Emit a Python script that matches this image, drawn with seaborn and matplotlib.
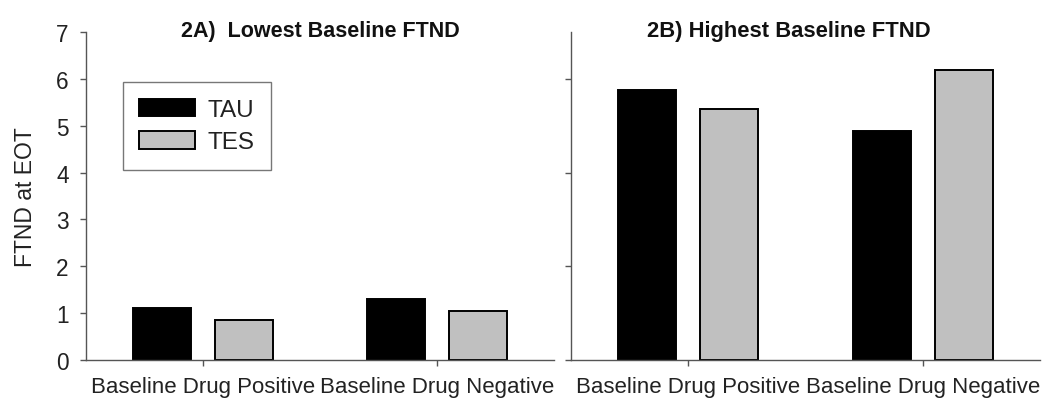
import numpy as np
import pandas as pd
import matplotlib
matplotlib.use("Agg")
import matplotlib.pyplot as plt
import seaborn as sns

# ---- data ----
groups = ["Baseline Drug Positive", "Baseline Drug Negative"]
treatments = ["TAU", "TES"]
lowest_tau = [1.11, 1.29]
lowest_tes = [0.84, 1.04]
highest_tau = [5.77, 4.90]
highest_tes = [5.36, 6.20]
yticks_left = [0, 1, 2, 3, 4, 5, 6, 7]
yticks_right = [0, 2, 4, 6]
title_left = "2A)  Lowest Baseline FTND"
title_right = "2B) Highest Baseline FTND"
ylabel = "FTND at EOT"

def frame(tau, tes):
    return pd.DataFrame({
        "group": groups * 2,
        "treatment": [treatments[0]] * len(groups) + [treatments[1]] * len(groups),
        "value": list(tau) + list(tes),
    })

df_left = frame(lowest_tau, lowest_tes)
df_right = frame(highest_tau, highest_tes)

sns.set_style("white")
plt.rcParams["font.family"] = ["Liberation Sans", "DejaVu Sans"]

W, H = 1049, 406
fig = plt.figure(figsize=(W / 100, H / 100), dpi=100)
axL = fig.add_axes([86 / W, 45.3 / H, 468.3 / W, 327.4 / H])
axR = fig.add_axes([571 / W, 45.3 / H, 469 / W, 327.4 / H])

palette = {"TAU": "#000000", "TES": "#c0c0c0"}
spine_col = "#555555"
text_col = "#222222"

for ax, df in ((axL, df_left), (axR, df_right)):
    sns.barplot(data=df, x="group", y="value", hue="treatment",
                order=groups, hue_order=treatments, palette=palette,
                edgecolor="black", linewidth=1.4, width=0.70, gap=0.29,
                errorbar=None, ax=ax, saturation=1)
    ax.set_xlim(-0.5, 1.5)
    ax.set_ylim(0, 7)
    for s in ("top", "right"):
        ax.spines[s].set_visible(False)
    for s in ("left", "bottom"):
        ax.spines[s].set_color(spine_col)
        ax.spines[s].set_linewidth(1.0)
    ax.set_xlabel("")
    ax.set_ylabel("")
    ax.tick_params(axis="both", which="both", direction="out", colors=spine_col,
                   labelcolor=text_col, width=1.0, bottom=True, left=True)
    ax.tick_params(axis="x", length=4.5, pad=7, labelsize=16)
    ax.tick_params(axis="y", length=4.5, pad=8, labelsize=16.3)
    if ax.get_legend() is not None:
        ax.get_legend().remove()

axL.set_yticks(yticks_left)
axR.set_yticks(yticks_right)
axR.set_yticklabels([])
axR.tick_params(axis="y", length=4)

axL.set_ylabel(ylabel, fontsize=16.5, color=text_col)
axL.yaxis.set_label_coords(-0.105, 0.5)

axL.text(0.5, 0.99, title_left, transform=axL.transAxes, ha="center",
         va="baseline", fontsize=15.5, fontweight="bold", color="#111111")
axR.text(0.464, 0.99, title_right, transform=axR.transAxes, ha="center",
         va="baseline", fontsize=15.8, fontweight="bold", color="#111111")

handles, labels = axL.get_legend_handles_labels()
if not handles:
    from matplotlib.patches import Patch
    handles = [Patch(facecolor=palette[t], edgecolor="black", linewidth=1.4) for t in treatments]
    labels = treatments
leg = fig.legend(handles[:2], labels[:2], loc="upper left",
                 bbox_to_anchor=(122.7 / W, 1 - 83.3 / H), bbox_transform=fig.transFigure,
                 borderaxespad=0, fontsize=17.5, frameon=True, fancybox=False,
                 handlelength=2.3, handleheight=0.72, handletextpad=0.5,
                 labelspacing=0.42, borderpad=0.68)
leg.get_frame().set_edgecolor(spine_col)
leg.get_frame().set_linewidth(1.0)
for t in leg.get_texts():
    t.set_color(text_col)

fig.savefig("out.png", dpi=100, facecolor="white")
